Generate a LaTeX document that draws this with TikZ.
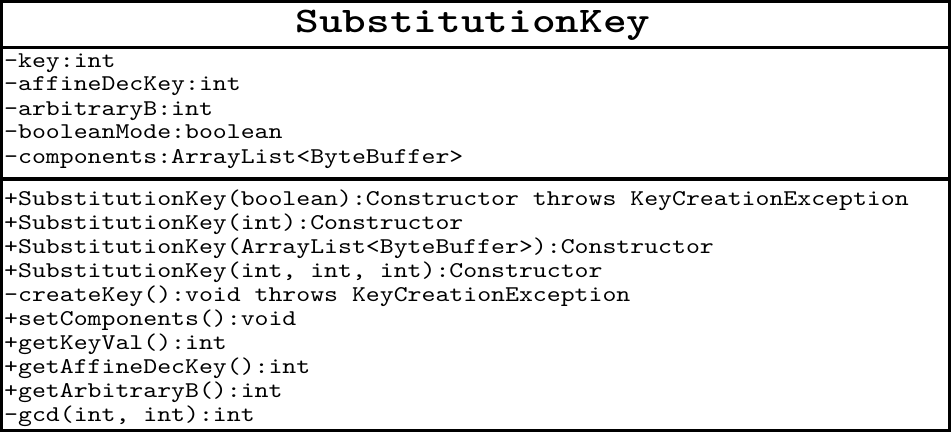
\documentclass[tikz,border=0pt]{standalone}
\usepackage{fontspec}
\newfontfamily\umltt{lmmono10-regular}[Extension=.otf,FakeStretch=1.178]
\newfontfamily\umlttb{lmmonolt10-bold}[Extension=.otf,FakeStretch=1.252]
\begin{document}
\begin{tikzpicture}[x=1pt,y=-1pt,
  member/.style={anchor=base west,inner sep=0pt,font=\umltt\fontsize{22.5}{24}\selectfont},
  classtitle/.style={anchor=base,inner sep=0pt,font=\umlttb\fontsize{36}{40}\selectfont},
  frame/.style={line width=3pt,draw=black},
  divider/.style={line width=3.3pt,draw=black}]
\useasboundingbox (0,0) rectangle (951,436);
\coordinate (tl) at (1.5,1.5);
\coordinate (br) at (949.5,430.5);
\coordinate (d1l) at (0,47.5);
\coordinate (d1r) at (951,47.5);
\coordinate (d2l) at (0,179);
\coordinate (d2r) at (951,179);
\draw[frame] (tl) rectangle (br);
\draw[divider] (d1l) -- (d1r);
\draw[divider] (d2l) -- (d2r);
\node[classtitle] (title) at (473,33) {SubstitutionKey};
\node[member] (a1) at (4,67) {-key:int};
\node[member] (a2) at (4,91) {-affineDecKey:int};
\node[member] (a3) at (4,115) {-arbitraryB:int};
\node[member] (a4) at (4,139) {-booleanMode:boolean};
\node[member] (a5) at (4,163) {-components:ArrayList<ByteBuffer>};
\node[member] (m1) at (4,205) {+SubstitutionKey(boolean):Constructor throws KeyCreationException};
\node[member] (m2) at (4,229) {+SubstitutionKey(int):Constructor};
\node[member] (m3) at (4,253) {+SubstitutionKey(ArrayList<ByteBuffer>):Constructor};
\node[member] (m4) at (4,277) {+SubstitutionKey(int, int, int):Constructor};
\node[member] (m5) at (4,301) {-createKey():void throws KeyCreationException};
\node[member] (m6) at (4,325) {+setComponents():void};
\node[member] (m7) at (4,349) {+getKeyVal():int};
\node[member] (m8) at (4,373) {+getAffineDecKey():int};
\node[member] (m9) at (4,397) {+getArbitraryB():int};
\node[member] (m10) at (4,421) {-gcd(int, int):int};
\end{tikzpicture}
\end{document}
